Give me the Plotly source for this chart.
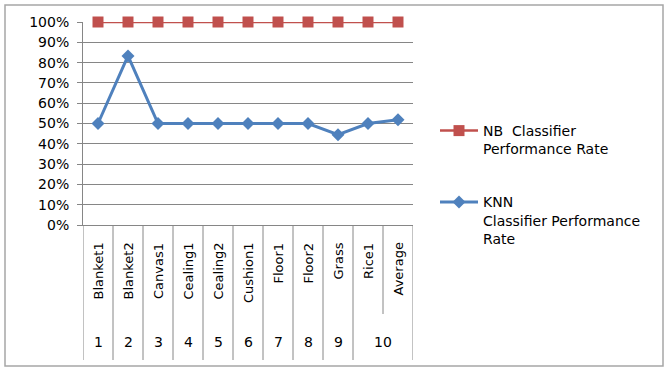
import plotly.graph_objects as go

categories = ["Blanket1", "Blanket2", "Canvas1", "Cealing1", "Cealing2", "Cushion1",
              "Floor1", "Floor2", "Grass", "Rice1", "Average"]
group_labels = ["1", "2", "3", "4", "5", "6", "7", "8", "9", "10"]
group_spans = [(0, 0), (1, 1), (2, 2), (3, 3), (4, 4), (5, 5), (6, 6), (7, 7), (8, 8), (9, 10)]
nb_rate = [1.0, 1.0, 1.0, 1.0, 1.0, 1.0, 1.0, 1.0, 1.0, 1.0, 1.0]
knn_rate = [0.50, 0.833, 0.50, 0.50, 0.50, 0.50, 0.50, 0.50, 0.445, 0.50, 0.518]
y_ticks = [i / 10 for i in range(11)]
y_tick_text = [f"{i * 10}%" for i in range(11)]

FONT = "DejaVu Sans"
W, H = 668, 370
L, R, T, B = 83, 255, 22, 145
pw, ph = W - L - R, H - T - B

def px_x(p):
    return (p - L) / pw

def px_y(p):
    return (H - B - p) / ph

x = list(range(len(categories)))

fig = go.Figure()
fig.add_trace(go.Scatter(
    x=x, y=nb_rate, mode="lines+markers",
    name="NB  Classifier<br>Performance Rate",
    line=dict(color="#C0504D", width=2.5),
    marker=dict(symbol="square", size=11, color="#C0504D"),
    legendgroup="a", cliponaxis=False,
))
fig.add_trace(go.Scatter(
    x=x, y=knn_rate, mode="lines+markers",
    name="KNN<br>Classifier Performance<br>Rate",
    line=dict(color="#4F81BD", width=3),
    marker=dict(symbol="diamond", size=10, color="#4F81BD"),
    legendgroup="b", cliponaxis=False,
))

shapes = []
# outer border
shapes.append(dict(type="rect", xref="paper", yref="paper",
                   x0=px_x(5), x1=px_x(663), y0=px_y(366), y1=px_y(5),
                   line=dict(color="#A6A6A6", width=1.5), layer="below"))
# category separators
for i in range(len(categories) + 1):
    bx = i - 0.5
    short = (i == 10)
    shapes.append(dict(type="line", xref="x", yref="paper",
                       x0=bx, x1=bx, y0=0, y1=px_y(314 if short else 360),
                       line=dict(color="#868686", width=1)))

annotations = []
for i, c in enumerate(categories):
    annotations.append(dict(x=i, y=px_y(241), xref="x", yref="paper", text=c,
                            textangle=-90, showarrow=False, xanchor="center", yanchor="top",
                            font=dict(family=FONT, size=13, color="#000000")))
for g, (a, b) in zip(group_labels, group_spans):
    annotations.append(dict(x=(a + b) / 2, y=px_y(342), xref="x", yref="paper", text=g,
                            showarrow=False, xanchor="center", yanchor="middle",
                            font=dict(family=FONT, size=14, color="#000000")))

fig.update_layout(
    width=W, height=H,
    margin=dict(l=L, r=R, t=T, b=B),
    paper_bgcolor="white", plot_bgcolor="white",
    showlegend=True,
    legend=dict(x=px_x(435), y=px_y(115), xanchor="left", yanchor="top",
                font=dict(family=FONT, size=14, color="#000000"),
                valign="top", tracegroupgap=32, itemwidth=38,
                bgcolor="rgba(0,0,0,0)"),
    xaxis=dict(range=[-0.5, len(categories) - 0.5], showticklabels=False, showgrid=False,
               zeroline=False, showline=True, linecolor="#868686", linewidth=1,
               ticks="", fixedrange=True),
    yaxis=dict(range=[0, 1], tickvals=y_ticks, ticktext=y_tick_text,
               showgrid=True, gridcolor="#868686", gridwidth=1,
               zeroline=False, showline=True, linecolor="#868686", linewidth=1,
               ticks="outside", ticklen=5, tickcolor="#868686", ticklabelstandoff=5,
               tickfont=dict(family=FONT, size=14, color="#000000"), fixedrange=True),
    shapes=shapes, annotations=annotations,
)
fig.write_html("out.html")
